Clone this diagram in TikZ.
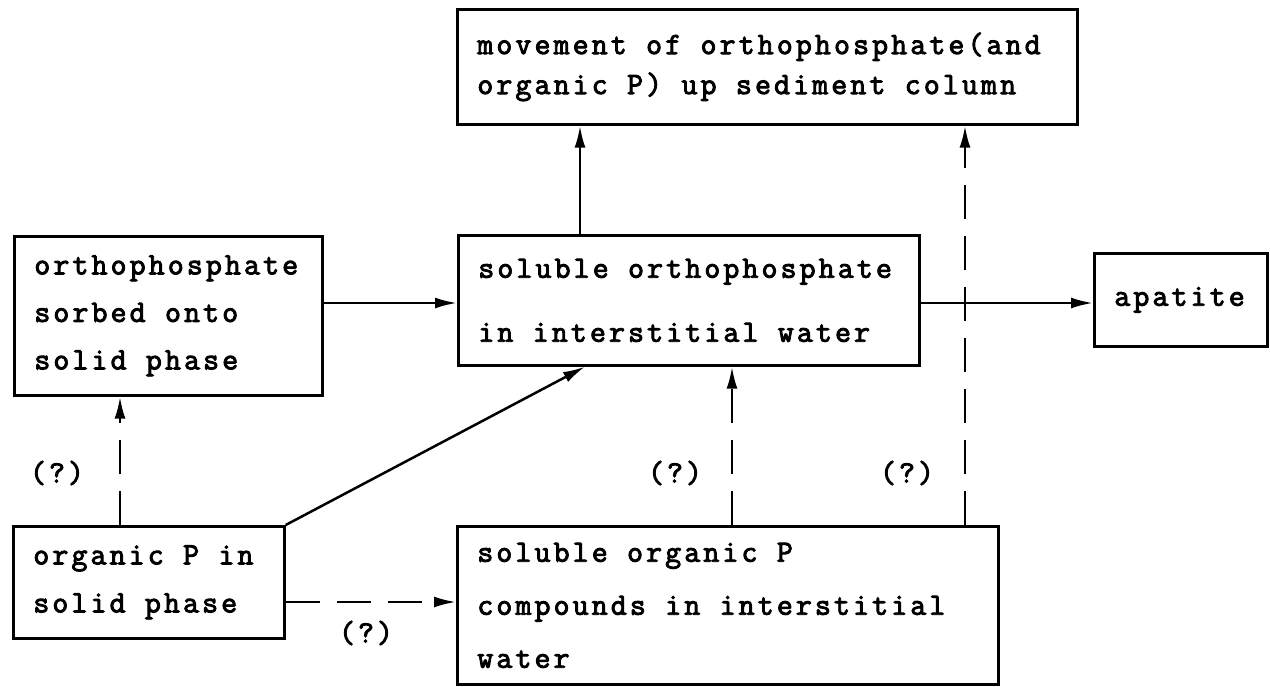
\documentclass[tikz,border=0pt]{standalone}
\usepackage{fontspec}
\newfontfamily\tw{Latin Modern Mono}[LetterSpace=10,FakeBold=3]
\newcommand\fixsp{\spaceskip=19.4pt\xspaceskip=19.4pt\relax}
\usetikzlibrary{arrows.meta}
\begin{document}
\begin{tikzpicture}[x=1pt,y=-1pt,
  box/.style={draw, line width=2.7pt, anchor=north west, inner xsep=20pt, inner ysep=0pt, align=left},
  tf/.style={font={\tw\fontsize{31}{#1}\selectfont}},
  arr/.style={line width=2.5pt, -{Latex[length=22pt,width=11pt]}},
  darr/.style={arr, dash pattern=on 34pt off 17pt},
  lab/.style={tf=40, inner sep=0pt}
]
\useasboundingbox (0,0) rectangle (1270,686);
\node[box, tf=40, text width=580pt, minimum height=115pt] (top) at (456,8)
  {\fixsp\mbox{movement of orthophosphate(and}\\\mbox{organic P) up sediment column}};
\node[box, tf=47.5, text width=268pt, minimum height=159pt] (left) at (13,235)
  {\fixsp orthophosphate\\sorbed onto\\solid phase};
\node[box, tf=64, text width=421pt, minimum height=130pt] (mid) at (457,234)
  {\fixsp\mbox{soluble orthophosphate}\\\mbox{in interstitial water}};
\node[box, tf=40, text width=133pt, minimum height=93pt] (apat) at (1093,252)
  {\mbox{apatite}};
\node[box, tf=48, text width=231pt, minimum height=112pt] (org) at (12,525)
  {\fixsp\mbox{organic P in}\\\mbox{solid phase}};
\node[box, tf=53, text width=501pt, minimum height=158pt] (sol) at (456,525)
  {\fixsp\mbox{soluble organic P}\\\mbox{compounds in interstitial}\\water};

\draw[arr] (mid.north -| 580,0) -- (top.south -| 580,0);
\draw[arr] (left.east |- 0,303) -- (mid.west |- 0,303);
\draw[arr] (mid.east |- 0,303) -- (apat.west |- 0,303);
\draw[arr] (org.north east) -- (mid.south -| 585,0);
\draw[darr] (org.north -| 120,0) -- (left.south -| 120,0);
\draw[darr] (org.east |- 0,602) -- (sol.west |- 0,602);
\draw[darr] (sol.north -| 732,0) -- (mid.south -| 732,0);
\draw[darr] (sol.north -| 965,0) -- (top.south -| 965,0);

\node[lab] (q1) at (57,473) {(?)};
\node[lab] (q2) at (675,473) {(?)};
\node[lab] (q3) at (907,473) {(?)};
\node[lab] (q4) at (366,633) {(?)};
\end{tikzpicture}
\end{document}
